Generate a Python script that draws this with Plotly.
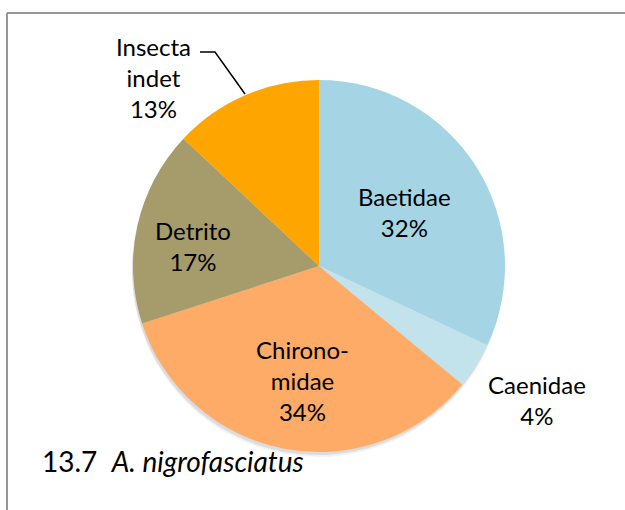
import plotly.graph_objects as go

categories = ["Baetidae", "Caenidae", "Chirono-<br>midae", "Detrito", "Insecta<br>indet"]
values = [32, 4, 34, 17, 13]
colors = ["#A5D5E4", "#C3E3EC", "#FDAB67", "#A59B6B", "#FFA500"]
title_text = "13.7&nbsp;&nbsp;<i>A. nigrofasciatus</i>"

W, H = 625, 510
FONT = "Lato"

def px(x):
    return x / W

def py(y):
    return 1 - y / H

cx, cy, r = 319, 266, 186

fig = go.Figure()

# soft shadow behind the pie
for off, op in [(5, 0.05), (3, 0.09)]:
    fig.add_trace(go.Pie(
        values=values, labels=categories, sort=False, direction="clockwise",
        marker=dict(colors=["rgba(0,0,0,%s)" % op] * len(values), line=dict(width=0)),
        textinfo="none", hoverinfo="skip", showlegend=False,
        domain=dict(x=[px(cx - r - 1), px(cx + r - 1)], y=[py(cy + r + off), py(cy - r + off)]),
    ))

fig.add_trace(go.Pie(
    values=values, labels=categories, sort=False, direction="clockwise",
    marker=dict(colors=colors, line=dict(width=0)),
    textinfo="none", showlegend=False,
    domain=dict(x=[px(cx - r), px(cx + r)], y=[py(cy + r), py(cy - r)]),
))

# label positions (pixel centres) for each category
label_pos = [(404, 212), (537, 400), (302, 380), (193, 246), (153, 77)]
for cat, v, (lx, ly) in zip(categories, values, label_pos):
    fig.add_annotation(
        x=px(lx), y=py(ly), xref="paper", yref="paper",
        text=f"{cat}<br>{v}%", showarrow=False,
        font=dict(family=FONT, size=24, color="black"),
        xanchor="center", yanchor="middle", align="center",
    )

fig.add_annotation(
    x=px(40), y=py(461), xref="paper", yref="paper",
    text=title_text, showarrow=False,
    font=dict(family=FONT, size=28, color="black"),
    xanchor="left", yanchor="middle",
)

shapes = [
    # frame
    dict(type="line", xref="paper", yref="paper", x0=px(7), y0=py(13), x1=1.02, y1=py(13),
         line=dict(color="#969696", width=2)),
    dict(type="line", xref="paper", yref="paper", x0=px(7), y0=py(13), x1=px(7), y1=-0.02,
         line=dict(color="#969696", width=2)),
    # leader line for Insecta indet
    dict(type="path", xref="paper", yref="paper",
         path=f"M {px(200)} {py(52)} L {px(215)} {py(52)} L {px(245)} {py(94)}",
         line=dict(color="black", width=1.5)),
]

fig.update_layout(
    width=W, height=H, margin=dict(l=0, r=0, t=0, b=0),
    paper_bgcolor="white", plot_bgcolor="white", shapes=shapes,
)

# remove the browser's default page margin so the figure fills the window
fig.write_html("out.html", config={"displayModeBar": False},
               post_script="document.body.style.margin='0';document.body.style.overflow='hidden';")
